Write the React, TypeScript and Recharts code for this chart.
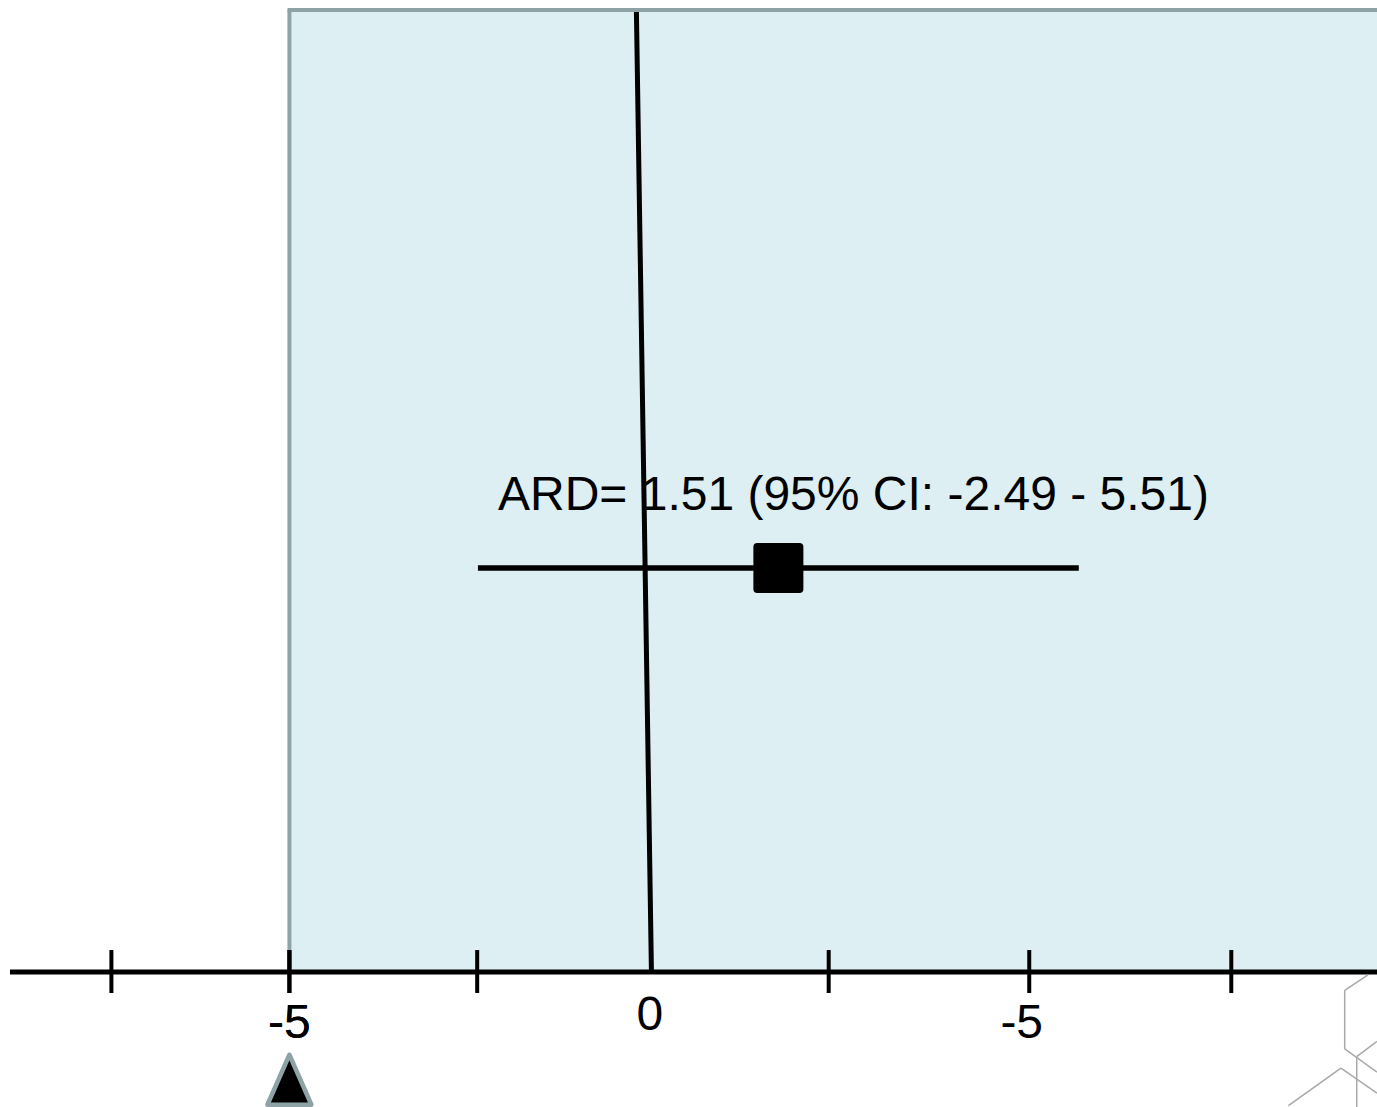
import React from "react";
import {
  ComposedChart,
  Scatter,
  XAxis,
  YAxis,
  ErrorBar,
  ReferenceArea,
  ReferenceLine,
  ReferenceDot,
} from "recharts";

// ---- data ----
const estimate = 1.51;
const ciLow = -2.49;
const ciHigh = 5.51;
const rowY = 4.2;
const labelText = "ARD= 1.51 (95% CI: -2.49 - 5.51)";
const labelX = 2.51;
const labelY = 4.8;

const xDomain: [number, number] = [-8.72, 9.48];
const yDomain: [number, number] = [0, 10];

const shadeStart = -5;
const nullLineTop = { x: -0.38, y: 9.98 };
const nullLineBottom = { x: -0.18, y: 0 };

const tickMarks = [-7.37, -5, -2.5, 2.18, 4.85, 7.54];
const tickLabelValues = [-5, -0.2, 4.75];
const tickLabelTexts = ["-5", "0", "-5"];

const markerX = -5;
const markerY = -1.12;

const decorSegments = [
  [{ x: 9.36, y: -0.03 }, { x: 9.05, y: -0.19 }],
  [{ x: 9.05, y: -0.19 }, { x: 9.05, y: -0.8 }],
  [{ x: 9.05, y: -0.8 }, { x: 9.48, y: -1.04 }],
  [{ x: 9.21, y: -0.88 }, { x: 9.48, y: -0.72 }],
  [{ x: 9.21, y: -0.88 }, { x: 9.21, y: -1.41 }],
  [{ x: 8.3, y: -1.39 }, { x: 9.0, y: -1.0 }],
  [{ x: 9.0, y: -1.0 }, { x: 9.48, y: -1.26 }],
];

const pointData = [
  { x: estimate, y: rowY, err: [estimate - ciLow, ciHigh - estimate] },
];

const allTicks = [...tickMarks, ...tickLabelValues].sort((a, b) => a - b);

// ---- styles ----
const FONT = "'Liberation Sans', Arial, Helvetica, sans-serif";
const labelBaselineOffsets: Record<string, number> = { "-5": 66, "0": 58 };

const AxisTick = (props: any) => {
  const { x, y, payload } = props;
  const v = payload.value;
  const isMark = tickMarks.some((t) => Math.abs(t - v) < 1e-9);
  const li = tickLabelValues.findIndex((t) => Math.abs(t - v) < 1e-9);
  return (
    <g>
      {isMark && (
        <line x1={x} x2={x} y1={y - 22} y2={y + 21} stroke="#000" strokeWidth={4} />
      )}
      {li >= 0 && (
        <text
          x={x}
          y={y + (labelBaselineOffsets[tickLabelTexts[li]] ?? 64)}
          textAnchor="middle"
          fontSize={48}
          fontFamily={FONT}
          fill="#000"
        >
          {tickLabelTexts[li]}
        </text>
      )}
    </g>
  );
};

const SquareShape = (props: any) => {
  const { cx, cy } = props;
  return <rect x={cx - 25} y={cy - 25} width={50} height={50} rx={4} fill="#000" />;
};

const TriangleShape = (props: any) => {
  const { cx, cy } = props;
  return (
    <polygon
      points={`${cx},${cy - 25} ${cx + 22},${cy + 25} ${cx - 22},${cy + 25}`}
      fill="#000"
      stroke="#8ea3a6"
      strokeWidth={4.5}
      strokeLinejoin="round"
    />
  );
};

const LabelShape = (props: any) => {
  const { cx, cy } = props;
  return (
    <text x={cx} y={cy} textAnchor="middle" fontSize={48} fontFamily={FONT} fill="#000">
      {labelText}
    </text>
  );
};

export default function App() {
  return (
    <div
      style={{
        position: "absolute",
        left: 0,
        top: 0,
        width: 1377,
        height: 1107,
        overflow: "hidden",
        background: "#fff",
      }}
    >
      <ComposedChart
        width={1377}
        height={1107}
        data={pointData}
        margin={{ top: 10, right: 0, bottom: 0, left: 10 }}
      >
        <XAxis
          type="number"
          dataKey="x"
          domain={xDomain}
          ticks={allTicks}
          interval={0}
          allowDataOverflow
          tickLine={false}
          tickSize={0}
          tickMargin={0}
          axisLine={false}
          tick={<AxisTick />}
          height={135}
        />
        <YAxis type="number" dataKey="y" domain={yDomain} hide allowDataOverflow />
        <ReferenceArea
          x1={shadeStart}
          x2={xDomain[1]}
          y1={yDomain[0]}
          y2={yDomain[1]}
          fill="#ddeff2"
          fillOpacity={1}
          stroke="none"
          ifOverflow="visible"
        />
        <ReferenceLine
          segment={[
            { x: shadeStart, y: yDomain[0] },
            { x: shadeStart, y: yDomain[1] },
          ]}
          stroke="#8ea3a6"
          strokeWidth={4}
          ifOverflow="visible"
        />
        <ReferenceLine
          segment={[
            { x: shadeStart - 0.025, y: yDomain[1] },
            { x: xDomain[1], y: yDomain[1] },
          ]}
          stroke="#8ea3a6"
          strokeWidth={4}
          ifOverflow="visible"
        />
        <ReferenceLine
          segment={[
            { x: xDomain[0], y: yDomain[0] },
            { x: xDomain[1], y: yDomain[0] },
          ]}
          stroke="#000"
          strokeWidth={5}
          ifOverflow="visible"
        />
        <ReferenceLine
          segment={[nullLineTop, nullLineBottom]}
          stroke="#000"
          strokeWidth={5}
          ifOverflow="visible"
        />
        {decorSegments.map((seg, i) => (
          <ReferenceLine
            key={i}
            segment={seg}
            stroke="#a8a8a8"
            strokeWidth={1.5}
            ifOverflow="visible"
          />
        ))}
        <ReferenceDot
          x={labelX}
          y={labelY}
          r={0}
          ifOverflow="visible"
          shape={<LabelShape />}
        />
        <ReferenceDot
          x={markerX}
          y={markerY}
          r={0}
          ifOverflow="visible"
          shape={<TriangleShape />}
        />
        <Scatter
          dataKey="y"
          data={pointData}
          shape={<SquareShape />}
          isAnimationActive={false}
        >
          <ErrorBar
            dataKey="err"
            direction="x"
            width={0}
            stroke="#000"
            strokeWidth={5.5}
            isAnimationActive={false}
          />
        </Scatter>
      </ComposedChart>
    </div>
  );
}
